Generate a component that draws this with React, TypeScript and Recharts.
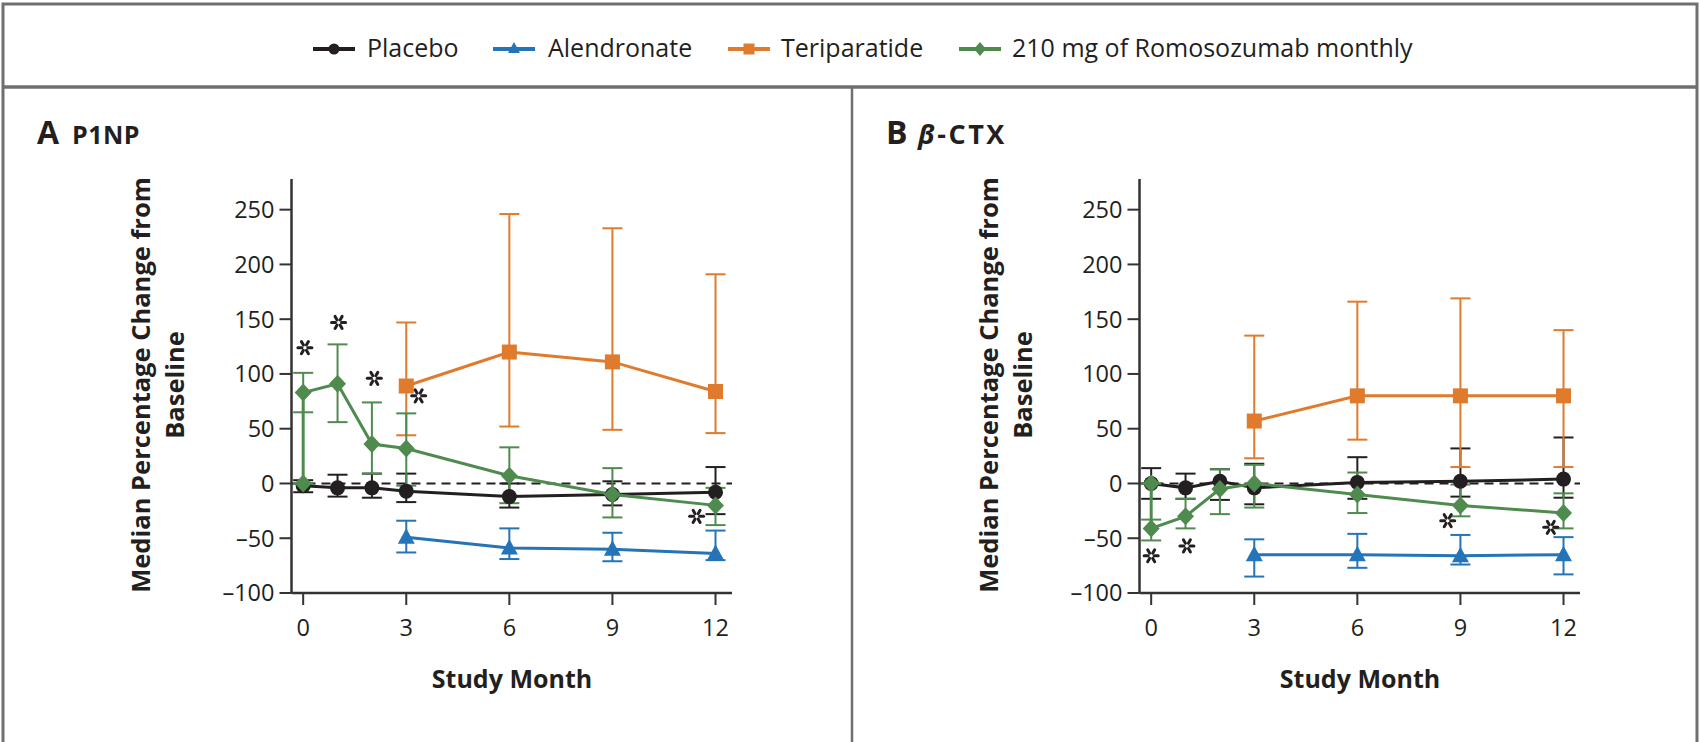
import React from "react";
import { ComposedChart, Line, Scatter, XAxis, YAxis, ErrorBar, ReferenceLine } from "recharts";

const FONT = "'Open Sans', sans-serif";
const INK = "#231f20";
const FRAME = "#6f6f6f";

const PLACEBO = "#231f20";
const ALENDRONATE = "#2474b7";
const TERIPARATIDE = "#e07a2c";
const ROMO = "#4f8b4f";

// study months
const allMonths = [0, 1, 2, 3, 6, 9, 12];
const romoMonths = [0, 0, 1, 2, 3, 6, 9, 12];
const laterMonths = [3, 6, 9, 12];
const xTicks = [0, 3, 6, 9, 12];
const yTicks = [-100, -50, 0, 50, 100, 150, 200, 250];

// A: P1NP, median % change with interquartile bounds
const p1npPlacebo = [-2, -4, -4, -7, -12, -10, -8];
const p1npPlaceboLow = [-8, -12, -13, -17, -22, -20, -28];
const p1npPlaceboHigh = [3, 8, 9, 9, 0, 2, 15];
const p1npAlendronate = [-49, -59, -60, -64];
const p1npAlendronateLow = [-63, -69, -71, -70];
const p1npAlendronateHigh = [-34, -41, -45, -43];
const p1npTeriparatide = [89, 120, 111, 84];
const p1npTeriparatideLow = [44, 52, 49, 46];
const p1npTeriparatideHigh = [147, 246, 233, 191];
const p1npRomo = [0, 83, 91, 36, 32, 7, -10, -20];
const p1npRomoLow = [0, 65, 56, 9, -2, -18, -31, -38];
const p1npRomoHigh = [0, 101, 127, 74, 64, 33, 14, -4];
const p1npStarMonths = [0.05, 1.03, 2.07, 3.36, 11.45];
const p1npStarValues = [124, 147, 96, 80, -30];

// B: beta-CTX
const ctxPlacebo = [0, -4, 2, -4, 1, 2, 4];
const ctxPlaceboLow = [-14, -14, -15, -19, -14, -12, -13];
const ctxPlaceboHigh = [14, 9, 13, 18, 24, 32, 42];
const ctxAlendronate = [-65, -65, -66, -65];
const ctxAlendronateLow = [-85, -77, -74, -83];
const ctxAlendronateHigh = [-51, -46, -47, -49];
const ctxTeriparatide = [57, 80, 80, 80];
const ctxTeriparatideLow = [23, 40, 15, 15];
const ctxTeriparatideHigh = [135, 166, 169, 140];
const ctxRomo = [0, -41, -30, -5, 0, -10, -20, -27];
const ctxRomoLow = [0, -52, -41, -28, -22, -27, -30, -41];
const ctxRomoHigh = [0, -33, -14, 13, 17, 10, -1, -9];
const ctxStarMonths = [0, 1.04, 8.63, 11.63];
const ctxStarValues = [-66, -57, -34, -40];

const series = (months: number[], values: number[], low: number[], high: number[]) =>
  months.map((month, i) => ({
    month,
    value: values[i],
    err: [values[i] - low[i], high[i] - values[i]],
  }));

const stars = (months: number[], values: number[]) => months.map((month, i) => ({ month, value: values[i] }));

// ---- markers ----
const circleDot = (color: string) => (p: any) =>
  <circle key={`c${p.index}`} cx={p.cx} cy={p.cy} r={7.5} fill={color} />;

const triangleDot = (color: string) => (p: any) => (
  <polygon
    key={`t${p.index}`}
    points={`${p.cx},${p.cy - 9} ${p.cx - 8.5},${p.cy + 6.5} ${p.cx + 8.5},${p.cy + 6.5}`}
    fill={color}
  />
);

const squareDot = (color: string) => (p: any) =>
  <rect key={`s${p.index}`} x={p.cx - 7.5} y={p.cy - 7.5} width={15} height={15} fill={color} />;

const diamondDot = (color: string) => (p: any) => (
  <polygon
    key={`d${p.index}`}
    points={`${p.cx},${p.cy - 9} ${p.cx + 8.5},${p.cy} ${p.cx},${p.cy + 9} ${p.cx - 8.5},${p.cy}`}
    fill={color}
  />
);

// open-centred six-point asterisk marking significance
const Asterisk = (p: any) => {
  const { cx, cy } = p;
  return (
    <g>
      {[0, 60, 120, 180, 240, 300].map((a) => {
        const r = (a * Math.PI) / 180;
        return (
          <line
            key={a}
            x1={cx + 3 * Math.cos(r)}
            y1={cy + 3 * Math.sin(r)}
            x2={cx + 7 * Math.cos(r)}
            y2={cy + 7 * Math.sin(r)}
            stroke={INK}
            strokeWidth={3}
            strokeLinecap="round"
          />
        );
      })}
    </g>
  );
};

const fmtTick = (v: number) => (v < 0 ? `\u2013${-v}` : `${v}`);

interface PanelProps {
  left: number;
  placebo: any[];
  alendronate: any[];
  teriparatide: any[];
  romo: any[];
  starPoints: any[];
}

function Panel({ left, placebo, alendronate, teriparatide, romo, starPoints }: PanelProps) {
  const tickStyle = { fontSize: 23.5, fontFamily: FONT, fill: INK };
  return (
    <div style={{ position: "absolute", left, top: 0 }}>
      <ComposedChart width={850} height={742} margin={{ top: 179, right: 118, bottom: 89, left: 231.5 }}>
        <XAxis
          type="number"
          dataKey="month"
          domain={[-0.34, 12.48]}
          ticks={xTicks}
          allowDataOverflow
          height={60}
          tickSize={12}
          tickMargin={14}
          tick={tickStyle}
          stroke="#333"
          strokeWidth={2.5}
          tickLine={{ stroke: "#333", strokeWidth: 2 }}
        />
        <YAxis
          type="number"
          domain={[-100, 278]}
          ticks={yTicks}
          allowDataOverflow
          width={60}
          tickSize={12}
          tickMargin={5}
          tick={tickStyle}
          tickFormatter={fmtTick}
          stroke="#333"
          strokeWidth={2.5}
          tickLine={{ stroke: "#333", strokeWidth: 2 }}
        />
        <ReferenceLine y={0} stroke={INK} strokeWidth={2} strokeDasharray="9 6" />
        <Line
          data={placebo}
          dataKey="value"
          stroke={PLACEBO}
          strokeWidth={3}
          dot={circleDot(PLACEBO)}
          isAnimationActive={false}
        >
          <ErrorBar dataKey="err" direction="y" width={10} stroke={PLACEBO} strokeWidth={2} />
        </Line>
        <Line
          data={alendronate}
          dataKey="value"
          stroke={ALENDRONATE}
          strokeWidth={3}
          dot={triangleDot(ALENDRONATE)}
          isAnimationActive={false}
        >
          <ErrorBar dataKey="err" direction="y" width={10} stroke={ALENDRONATE} strokeWidth={2} />
        </Line>
        <Line
          data={teriparatide}
          dataKey="value"
          stroke={TERIPARATIDE}
          strokeWidth={3}
          dot={squareDot(TERIPARATIDE)}
          isAnimationActive={false}
        >
          <ErrorBar dataKey="err" direction="y" width={10} stroke={TERIPARATIDE} strokeWidth={2} />
        </Line>
        <Line
          data={romo}
          dataKey="value"
          stroke={ROMO}
          strokeWidth={3}
          dot={diamondDot(ROMO)}
          isAnimationActive={false}
        >
          <ErrorBar dataKey="err" direction="y" width={10} stroke={ROMO} strokeWidth={2} />
        </Line>
        <Scatter data={starPoints} dataKey="value" shape={Asterisk} isAnimationActive={false} />
      </ComposedChart>
    </div>
  );
}

const legendItems = [
  { label: "Placebo", color: PLACEBO, shape: "circle", lineX: 313, textX: 367 },
  { label: "Alendronate", color: ALENDRONATE, shape: "triangle", lineX: 493, textX: 548 },
  { label: "Teriparatide", color: TERIPARATIDE, shape: "square", lineX: 728, textX: 781 },
  { label: "210 mg of Romosozumab monthly", color: ROMO, shape: "diamond", lineX: 959, textX: 1012 },
];

function LegendMarker({ x, y, color, shape }: { x: number; y: number; color: string; shape: string }) {
  const cx = x + 21;
  let mark;
  if (shape === "circle") mark = <circle cx={cx} cy={y} r={5.5} fill={color} />;
  else if (shape === "triangle")
    mark = <polygon points={`${cx},${y - 7} ${cx - 6},${y + 4} ${cx + 6},${y + 4}`} fill={color} />;
  else if (shape === "square") mark = <rect x={cx - 5.5} y={y - 5.5} width={11} height={11} fill={color} />;
  else mark = <polygon points={`${cx},${y - 7} ${cx + 6},${y} ${cx},${y + 7} ${cx - 6},${y}`} fill={color} />;
  return (
    <g>
      <line x1={x} y1={y} x2={x + 42} y2={y} stroke={color} strokeWidth={4} />
      {mark}
    </g>
  );
}

function YLabel({ x }: { x: number }) {
  const style = { fontFamily: FONT, fontSize: 25.5, fontWeight: 700, fill: INK } as const;
  return (
    <g>
      <text transform={`translate(${x},385) rotate(-90)`} textAnchor="middle" style={style}>
        Median Percentage Change from
      </text>
      <text transform={`translate(${x + 34.5},385) rotate(-90)`} textAnchor="middle" style={style}>
        Baseline
      </text>
    </g>
  );
}

export default function App() {
  const titleBig = { fontFamily: FONT, fontSize: 32, fontWeight: 700, fill: INK } as const;
  const titleSmall = { fontFamily: FONT, fontSize: 25, fontWeight: 700, fill: INK } as const;
  const axisTitle = { fontFamily: FONT, fontSize: 25, fontWeight: 700, fill: INK } as const;

  return (
    <div style={{ position: "absolute", left: 0, top: 0, width: 1700, height: 742, background: "#fff", overflow: "hidden" }}>
      <svg width={1700} height={742} style={{ position: "absolute", left: 0, top: 0 }}>
        {/* frame */}
        <rect x={3} y={4} width={1694} height={760} fill="none" stroke={FRAME} strokeWidth={3} />
        <line x1={3} y1={87} x2={1697} y2={87} stroke={FRAME} strokeWidth={3.5} />
        <line x1={852} y1={87} x2={852} y2={742} stroke={FRAME} strokeWidth={2.5} />

        {/* legend */}
        {legendItems.map((it) => (
          <g key={it.label}>
            <LegendMarker x={it.lineX} y={49} color={it.color} shape={it.shape} />
            <text x={it.textX} y={57} style={{ fontFamily: FONT, fontSize: 25, fill: INK }}>
              {it.label}
            </text>
          </g>
        ))}

        {/* panel titles */}
        <text x={37} y={144} style={titleBig}>A</text>
        <text x={72} y={144} style={{ ...titleSmall, letterSpacing: 0.5 }}>P1NP</text>
        <text x={886} y={144} style={titleBig}>B</text>
        <text x={918} y={144} style={{ ...titleSmall, fontSize: 27, letterSpacing: 2.5 }}>
          <tspan fontStyle="italic">β</tspan>-CTX
        </text>

        {/* axis titles */}
        <YLabel x={149.5} />
        <YLabel x={997.5} />
        <text x={512} y={688} textAnchor="middle" style={axisTitle}>Study Month</text>
        <text x={1360} y={688} textAnchor="middle" style={axisTitle}>Study Month</text>
      </svg>

      <Panel
        left={0}
        placebo={series(allMonths, p1npPlacebo, p1npPlaceboLow, p1npPlaceboHigh)}
        alendronate={series(laterMonths, p1npAlendronate, p1npAlendronateLow, p1npAlendronateHigh)}
        teriparatide={series(laterMonths, p1npTeriparatide, p1npTeriparatideLow, p1npTeriparatideHigh)}
        romo={series(romoMonths, p1npRomo, p1npRomoLow, p1npRomoHigh)}
        starPoints={stars(p1npStarMonths, p1npStarValues)}
      />
      <Panel
        left={848}
        placebo={series(allMonths, ctxPlacebo, ctxPlaceboLow, ctxPlaceboHigh)}
        alendronate={series(laterMonths, ctxAlendronate, ctxAlendronateLow, ctxAlendronateHigh)}
        teriparatide={series(laterMonths, ctxTeriparatide, ctxTeriparatideLow, ctxTeriparatideHigh)}
        romo={series(romoMonths, ctxRomo, ctxRomoLow, ctxRomoHigh)}
        starPoints={stars(ctxStarMonths, ctxStarValues)}
      />
    </div>
  );
}
